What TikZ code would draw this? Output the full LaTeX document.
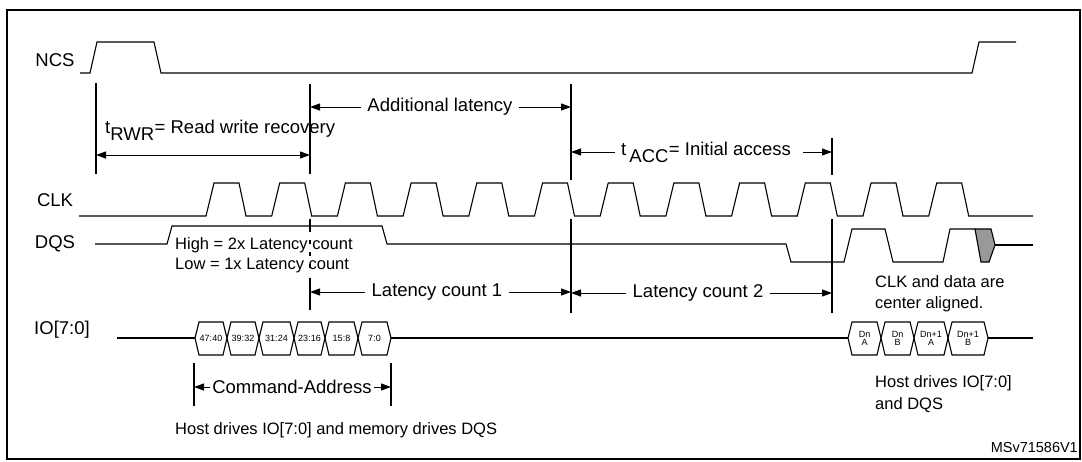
\documentclass[tikz,border=0pt]{standalone}
\usepackage{fontspec}
\setmainfont{Liberation Sans}
\usetikzlibrary{arrows.meta,positioning}

\tikzset{
  sig/.style={line width=1.1pt},
  tick/.style={line width=1.1pt},
  dim/.style={line width=1pt,-{Triangle[length=10pt,width=7pt]}},
  lbl/.style={font=\fontsize{18.5}{20}\selectfont, inner sep=1pt},
  dlbl/.style={lbl, inner xsep=6pt},
  note/.style={font=\fontsize{16.5}{19}\selectfont, inner sep=1pt, anchor=west},
  tiny/.style={font=\fontsize{9}{9}\selectfont, inner sep=0pt, align=center},
}
\newcommand\hexbox[4]{% left, right, name, text
  \draw[sig] (#1,338) -- (#1+4,322) -- (#2-4,322) -- (#2,338) -- (#2-4,355) -- (#1+4,355) -- cycle;
  \node[tiny] (#3) at ({(#1+#2)/2},338.5) {#4};}

\begin{document}
\begin{tikzpicture}[x=1pt,y=-1pt]
  \useasboundingbox (0,0) rectangle (1082,461);
  \draw[line width=1.6pt] (7,10) rectangle (1080,459);

  % signal names
  \node[lbl] (ncs) at (55,60)  {NCS};
  \node[lbl] (clk) at (55,200) {CLK};
  \node[lbl] (dqs) at (55,244) {DQS};
  \node[lbl] (io)  at (62,330) {IO[7:0]};

  % waveforms
  \draw[sig] (80,73) -- (90,73) -- (97,42) -- (154,42) -- (161,73) -- (972,73) -- (979,42) -- (1016,42);
  \draw[sig] (79,216) foreach \k in {0,...,11}{
      -- ({206+65.7*\k},216) -- ({214+65.7*\k},183) -- ({239+65.7*\k},183) -- ({246+65.7*\k},216)}
    -- (1033,216);
  \draw[sig] (95,244) -- (167,244) -- (172,226) -- (382,226) -- (387,244) -- (786,244) -- (791,262)
    -- (844,262) -- (852,229) -- (885,229) -- (893,262) -- (943,262) -- (950,229) -- (975,229);
  \draw[sig, fill=gray!80] (975,229) -- (991,229) -- (995,245) -- (989,262) -- (981,262) -- cycle;
  \draw[sig] (995,245) -- (1033,245);
  \draw[sig] (117,338) -- (195,338);
  \draw[sig] (391,338) -- (848,338);
  \draw[sig] (988,338) -- (1033,338);

  \hexbox{195}{227}{b0}{47:40}
  \hexbox{227}{259}{b1}{39:32}
  \hexbox{259}{294}{b2}{31:24}
  \hexbox{294}{325}{b3}{23:16}
  \hexbox{325}{358}{b4}{15:8}
  \hexbox{358}{391}{b5}{7:0}
  \hexbox{848}{881}{d0}{Dn\\[-1pt]A}
  \hexbox{881}{914}{d1}{Dn\\[-1pt]B}
  \hexbox{914}{948}{d2}{Dn+1\\[-1pt]A}
  \hexbox{948}{988}{d3}{Dn+1\\[-1pt]B}

  % timing markers
  \draw[tick] (96,83) -- (96,174);
  \draw[tick] (310,84) -- (310,174);
  \draw[tick] (310,219) -- (310,232);
  \draw[tick, dash pattern=on 4pt off 8pt] (310,240) -- (310,276);
  \draw[tick] (310,278) -- (310,310);
  \draw[tick] (571,84) -- (571,180);
  \draw[tick] (571,219) -- (571,313);
  \draw[tick] (832,138) -- (832,175);
  \draw[tick] (832,219) -- (832,313);
  \draw[tick] (194,363) -- (194,406);
  \draw[tick] (391,363) -- (391,406);

  % dimensions
  \node[dlbl] (addl) at (440,107) {Additional latency};
  \draw[dim] (addl.west) -- (310,107);
  \draw[dim] (addl.east) -- (571,107);
  \node[lbl, anchor=west] (rwr) at (104,130) {t\textsubscript{\fontsize{18.5}{18}\selectfont RWR}= Read write recovery};
  \draw[dim, {Triangle[length=10pt,width=7pt]}-{Triangle[length=10pt,width=7pt]}] (96,155) -- (310,155);
  \node[dlbl] (acc) at (706,152) {t\,\textsubscript{\fontsize{18.5}{18}\selectfont ACC}= Initial access};
  \draw[dim] (acc.west) -- (571,152);
  \draw[dim] ([xshift=6pt]acc.east) -- (832,152);
  \node[dlbl] (lc1) at (437,292) {Latency count 1};
  \draw[dim] (lc1.west) -- (310,292);
  \draw[dim] (lc1.east) -- (571,292);
  \node[dlbl] (lc2) at (698,293) {Latency count 2};
  \draw[dim] (lc2.west) -- (571,293);
  \draw[dim] (lc2.east) -- (832,293);
  \node[lbl, inner xsep=2pt] (cmd) at (292,387) {Command-Address};
  \draw[dim] (cmd.west) -- (194,387);
  \draw[dim] (cmd.east) -- (391,387);

  % notes
  \node[note] (hi) at (174,245) {High = 2x Latency count};
  \node[note] (lo) at (174,266) {Low = 1x Latency count};
  \node[note] (hd) at (174,430) {Host drives IO[7:0] and memory drives DQS};
  \node[note] (ca) at (874,282) {CLK and data are};
  \node[note] (cb) at (874,304) {center aligned.};
  \node[note] (ha) at (874,383) {Host drives IO[7:0]};
  \node[note] (hb) at (874,405) {and DQS};
  \node[font=\fontsize{14.5}{15}\selectfont, anchor=east, inner sep=0pt] (id) at (1078,448) {MSv71586V1};
\end{tikzpicture}
\end{document}
